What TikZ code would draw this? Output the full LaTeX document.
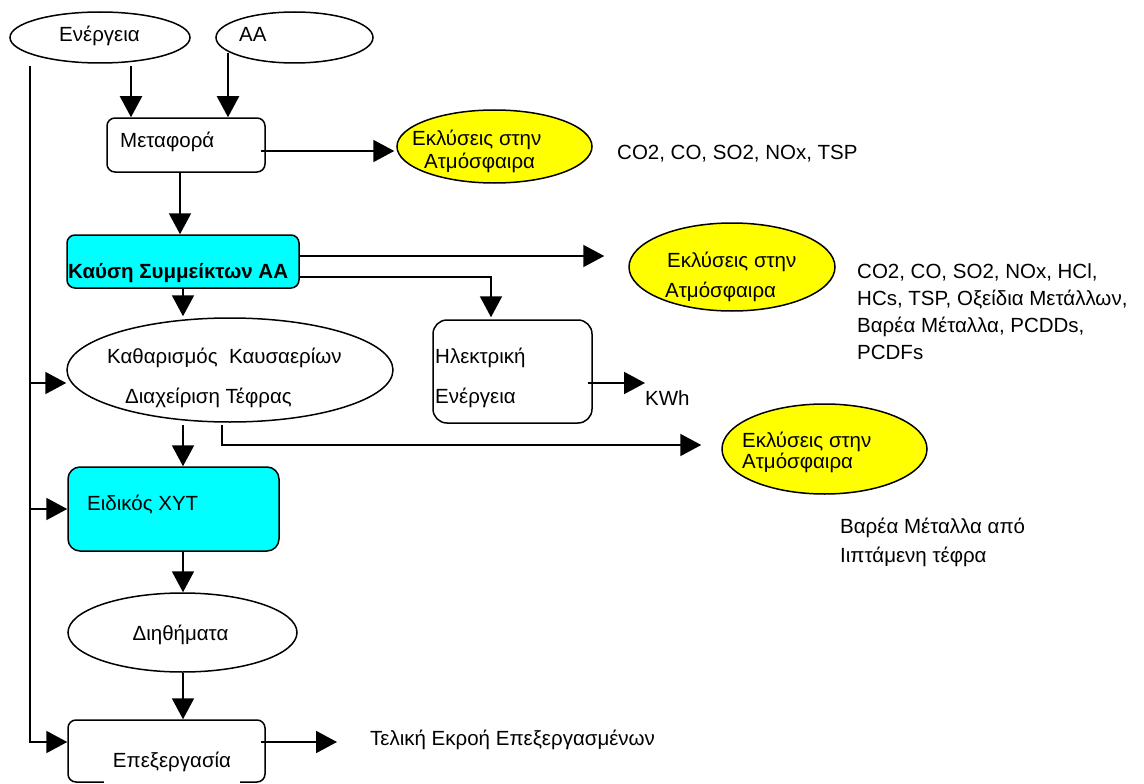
\documentclass[tikz,border=0pt]{standalone}
\usepackage{fontspec}
\setmainfont{Liberation Sans}
\usetikzlibrary{arrows.meta,shapes.geometric}
\definecolor{boxcyan}{HTML}{00FFFF}
\definecolor{emyellow}{HTML}{FFFF00}
\begin{document}
\begin{tikzpicture}[x=1pt,y=-1pt,
  every node/.style={font=\fontsize{20.5}{24}\selectfont, inner sep=0pt},
  oval/.style={ellipse, draw, line width=1.5pt, fill=white},
  emis/.style={oval, fill=emyellow},
  proc/.style={rectangle, draw, line width=1.5pt, rounded corners=8pt, fill=white},
  hot/.style={proc, fill=boxcyan},
  txt/.style={anchor=base west},
  ln/.style={line width=2pt},
  arr/.style={ln, -{Triangle[length=21pt,width=22pt]}}]

\useasboundingbox (0,0) rectangle (1144,784);
\fill[white] (0,0) rectangle (1144,784);

% shapes
\node[oval, minimum width=180pt, minimum height=51pt] (ener) at (100,37.5) {};
\node[oval, minimum width=157pt, minimum height=51pt] (aa) at (294.5,37.5) {};
\node[proc, minimum width=158pt, minimum height=54pt] (meta) at (186,145) {};
\node[emis, minimum width=195pt, minimum height=73pt] (em1) at (494.5,146.5) {};
\node[hot, minimum width=232pt, minimum height=53pt] (kaysi) at (183,261.5) {};
\node[emis, minimum width=206pt, minimum height=88pt] (em2) at (732,267) {};
\node[oval, minimum width=326pt, minimum height=104pt] (kath) at (230,370) {};
\node[proc, rounded corners=14pt, minimum width=159pt, minimum height=103pt] (ilek) at (512.5,371.5) {};
\node[emis, minimum width=205pt, minimum height=90pt] (em3) at (824.5,449) {};
\node[hot, rounded corners=12pt, minimum width=211pt, minimum height=84pt] (xyt) at (173.5,509) {};
\node[oval, minimum width=229pt, minimum height=79pt] (dith) at (182.5,632.5) {};
\node[proc, minimum width=197pt, minimum height=62pt] (epex) at (166.5,751) {};

% texts that act as connector ends
\node[txt] (kwh) at (645,405) {KWh};
\node[txt] (telT) at (370,745) {Τελική Εκροή Επεξεργασμένων};

% connectors
\coordinate (bus) at (30,66);
\coordinate (kathIn) at ([yshift=-13pt]kath.west);
\draw[arr] (bus) |- ([yshift=9pt]epex.west);
\draw[arr] (kathIn -| bus) -- (kathIn);
\draw[arr] (xyt.west -| bus) -- (xyt.west);
\draw[arr] ([xshift=31pt,yshift=-2pt]ener.south) -- ([xshift=-55pt]meta.north);
\draw[arr] ([xshift=-66.5pt,yshift=11pt]aa.south) -- ([xshift=42pt]meta.north);
\draw[arr] ([xshift=-5pt,yshift=-6pt]meta.east) -- ([xshift=-2pt,yshift=-4.5pt]em1.west);
\draw[arr] ([xshift=-6pt]meta.south) -- ([xshift=-3pt]kaysi.north);
\draw[arr] ([yshift=5.5pt]kaysi.east) -- ([xshift=-24pt,yshift=11pt]em2.west);
\draw[arr] ([yshift=-15.5pt]kaysi.east) -| ([xshift=-21.5pt,yshift=2pt]ilek.north);
\draw[arr] (kaysi.south) -- ([xshift=-47pt,yshift=1pt]kath.north);
\draw[arr] ([xshift=-5pt,yshift=-11.5pt]ilek.east) -- ([yshift=22pt]kwh.base west);
\draw[arr] ([xshift=-47pt,yshift=-2pt]kath.south) -- ([xshift=9.5pt]xyt.north);
\draw[arr] ([xshift=-8pt,yshift=-2pt]kath.south) |- ([xshift=-20pt,yshift=4pt]em3.west);
\draw[arr] ([xshift=9.5pt]xyt.south) -- ([xshift=0.5pt]dith.north);
\draw[arr] ([xshift=0.5pt]dith.south) -- ([xshift=16.5pt]epex.north);
\draw[arr] ([xshift=-5pt,yshift=9pt]epex.east) -- ([xshift=-33pt,yshift=3pt]telT.base west);

% labels
\node[txt] (enerT) at (59,42) {Ενέργεια};
\node[txt] (aaT) at (239,42) {ΑΑ};
\node[txt] (metaT) at (120,147) {Μεταφορά};
\node[txt] (em1a) at (412,146) {Εκλύσεις στην};
\node[txt] (em1b) at (424,168) {Ατμόσφαιρα};
\node[txt] (out1) at (617,159) {CO2, CO, SO2, NOx, TSP};
\node[txt, font=\fontsize{20.5}{24}\selectfont\bfseries] (kaysiT) at (68,278) {Καύση Συμμείκτων ΑΑ};
\node[txt] (em2a) at (667,267) {Εκλύσεις στην};
\node[txt] (em2b) at (665,297) {Ατμόσφαιρα};
\node[txt] (out2a) at (857,278) {CO2, CO, SO2, NOx, HCl,};
\node[txt] (out2b) at (857,305) {HCs, TSP, Οξείδια Μετάλλων,};
\node[txt] (out2c) at (857,332) {Βαρέα Μέταλλα, PCDDs,};
\node[txt] (out2d) at (857,359) {PCDFs};
\node[txt] (kathA) at (107,363) {Καθαρισμός\ \ Καυσαερίων};
\node[txt] (kathB) at (125,403) {Διαχείριση Τέφρας};
\node[txt] (ilekA) at (435,363) {Ηλεκτρική};
\node[txt] (ilekB) at (435,403) {Ενέργεια};
\node[txt] (em3a) at (742,447) {Εκλύσεις στην};
\node[txt] (em3b) at (742,468) {Ατμόσφαιρα};
\node[txt] (out3a) at (840,533) {Βαρέα Μέταλλα από};
\node[txt] (out3b) at (840,562) {Ιιπτάμενη τέφρα};
\node[txt] (xytT) at (87,510) {Ειδικός ΧΥΤ};
\node[anchor=base] (dithT) at (180.5,640) {Διηθήματα};
\node[anchor=base, fill=white, minimum width=136pt, text height=16pt, text depth=22pt] (epexT) at (172,767) {Επεξεργασία};
\end{tikzpicture}
\end{document}
